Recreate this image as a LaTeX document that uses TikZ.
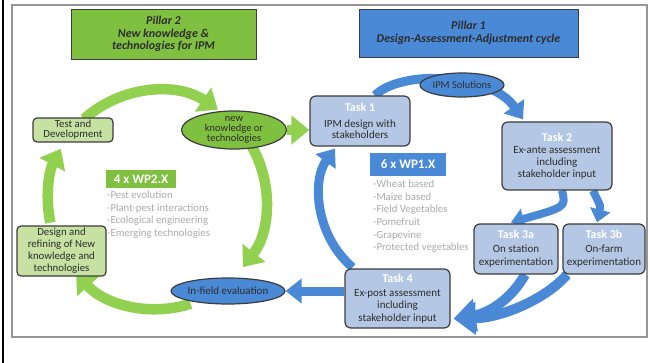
\documentclass[tikz,border=0pt]{standalone}
\usepackage{fontspec}
\setmainfont{Carlito}
\usetikzlibrary{arrows.meta,shapes.geometric}
\definecolor{gbright}{RGB}{146,208,80}
\definecolor{gmid}{RGB}{128,192,64}
\definecolor{glight}{RGB}{198,225,162}
\definecolor{bmid}{RGB}{74,137,214}
\definecolor{blight}{RGB}{180,199,228}
\definecolor{edge}{RGB}{60,60,60}
\definecolor{listgray}{RGB}{170,170,170}
\definecolor{framegray}{RGB}{150,150,150}
\definecolor{bodytext}{RGB}{45,45,45}
\pgfdeclarelayer{paper}
\pgfdeclarelayer{flow}
\pgfsetlayers{paper,flow,main}
\newcommand\tasktitle[1]{{\fontsize{12}{13}\selectfont\bfseries\color{white}#1}}
\begin{document}
\begin{tikzpicture}[x=1pt,y=-1pt,
  pillar/.style={draw=edge,line width=0.9pt,font=\fontsize{12}{12.8}\selectfont\bfseries\itshape,text=bodytext,align=center,inner sep=0pt},
  gbox/.style={draw=edge,line width=1.2pt,rounded corners=4pt,fill=glight,font=\fontsize{10.8}{12}\selectfont,text=bodytext,align=center,inner sep=0pt},
  tbox/.style={draw=edge,line width=1.2pt,rounded corners=6pt,fill=blight,font=\fontsize{11}{11.8}\selectfont,text=bodytext,align=center,inner sep=0pt},
  oval/.style={ellipse,draw=edge,line width=1.2pt,inner sep=0pt,font=\fontsize{10.5}{10}\selectfont,text=bodytext,align=center},
  wpbox/.style={inner sep=0pt,text=white,font=\fontsize{13}{14}\selectfont\bfseries},
  wplist/.style={anchor=north west,inner sep=0pt,text=listgray,align=left,font=\fontsize{10.8}{12.6}\selectfont},
  garrow/.style={draw=gbright,line width=10.5pt,-{Triangle[width=28pt,length=18pt]}},
  barrow/.style={draw=bmid,line width=9pt,-{Triangle[width=24pt,length=16pt]}},
  bsmall/.style={draw=bmid,line width=8pt,-{Triangle[width=20pt,length=13pt]}},
  bbig/.style={draw=bmid,line width=10pt,-{Triangle[width=32pt,length=22pt]}},
]
\useasboundingbox (0,0) rectangle (650,363);
\begin{pgfonlayer}{paper}
  \fill[white] (0,0) rectangle (650,363);
  \draw[black,line width=2pt] (3,0) -- (3,363);
  \draw[framegray,line width=1.5pt] (12,5) rectangle (647,337);
\end{pgfonlayer}

% pillar headers
\node[pillar,fill=gmid,minimum width=185pt,minimum height=50pt] (p2) at (163.5,34)
  {Pillar 2\\New knowledge \&\\technologies for IPM};
\node[pillar,fill=bmid,minimum width=219pt,minimum height=48pt] (p1) at (468.5,33)
  {Pillar 1\\Design-Assessment-Adjustment cycle};

% pillar 2 cycle
\coordinate (gc) at (157,200);
\node[gbox,minimum width=80pt,minimum height=24pt,font=\fontsize{10.8}{10}\selectfont] (test) at (73,130) {Test and\\Development};
\node[gbox,minimum width=89pt,minimum height=50pt] (design) at (61.5,251)
  {Design and\\refining of New\\knowledge and\\technologies};
\node[oval,fill=gmid,minimum width=105pt,minimum height=36pt] (know) at (234,130)
  {new\\knowledge or\\technologies};
\node[oval,fill=bmid,minimum width=88pt,minimum height=26pt,font=\fontsize{11}{11}\selectfont] (infield) at (228,291) {In-field evaluation};
\node[wpbox,fill=gmid,minimum width=70pt,minimum height=18pt] (wp2) at (141,179) {4 x WP2.X};
\node[wplist] (wp2list) at (107,191)
  {-Pest evolution\\-Plant-pest interactions\\-Ecological engineering\\-Emerging technologies};

% pillar 1 cycle
\node[tbox,minimum width=100pt,minimum height=50pt] (t1) at (360,121)
  {\tasktitle{Task 1}\\[4pt]IPM design with\\stakeholders};
\node[oval,fill=bmid,minimum width=84pt,minimum height=24pt] (ipm) at (462,85) {IPM Solutions};
\node[tbox,minimum width=110pt,minimum height=68pt] (t2) at (557,156)
  {\tasktitle{Task 2}\\[1pt]Ex-ante assessment\\including\\stakeholder input};
\node[tbox,minimum width=84pt,minimum height=50pt,font=\fontsize{11}{13.5}\selectfont] (t3a) at (516,249)
  {\tasktitle{Task 3a}\\On station\\experimentation};
\node[tbox,minimum width=82pt,minimum height=50pt,font=\fontsize{11}{13.5}\selectfont] (t3b) at (604,249)
  {\tasktitle{Task 3b}\\On-farm\\experimentation};
\node[tbox,minimum width=105pt,minimum height=59pt,font=\fontsize{11}{12.5}\selectfont] (t4) at (397.5,298.5)
  {\tasktitle{Task 4}\\[1pt]Ex-post assessment\\including\\stakeholder input};
\node[wpbox,fill=bmid,minimum width=76pt,minimum height=23pt] (wp1) at (408,164.5) {6 x WP1.X};
\node[wplist] (wp1list) at (373,180)
  {-Wheat based\\-Maize based\\-Field Vegetables\\-Pomefruit\\-Grapevine\\-Protected vegetables};

\begin{pgfonlayer}{flow}
  % green ring, clockwise
  \draw[garrow] (gc) ++(228:109) arc[start angle=228,end angle=304,radius=109];
  \draw[garrow] (gc) ++(-30:109) arc[start angle=-30,end angle=38,radius=109];
  \draw[garrow] (gc) ++(72:109) arc[start angle=72,end angle=138,radius=109];
  \draw[garrow] (gc) ++(168:109) arc[start angle=168,end angle=208,radius=109];
  \draw[garrow] (know.east) -- (t1.west |- know.east);

  % blue cycle (canvas shifts: positive yshift moves up)
  \draw[barrow] ([xshift=15pt]t1.north) .. controls (400,70) and (490,72) .. ([xshift=-34pt,yshift=2pt]t2.north);
  \draw[bsmall] ([xshift=5pt]t2.south) .. controls (566,207) .. ([xshift=-5pt,yshift=1pt]t3a.north);
  \draw[bsmall] ([xshift=36pt]t2.south) .. controls (601,207) .. ([xshift=-7pt,yshift=1pt]t3b.north);
  \draw[bbig] ([xshift=9pt]t3a.south) .. controls (512,298) and (490,313) .. ([xshift=3pt,yshift=10pt]t4.south east);
  \draw[bbig] ([xshift=-37pt]t3b.south) .. controls (545,300) and (500,318) .. ([xshift=3pt,yshift=10pt]t4.south east);
  \draw[barrow] (t4.west |- infield.east) -- (infield.east);
  \draw[barrow] ([xshift=-45pt,yshift=1pt]t4.north) .. controls (315,235) and (312,180) .. ([xshift=-25pt,yshift=-2pt]t1.south);
\end{pgfonlayer}
\end{tikzpicture}
\end{document}
